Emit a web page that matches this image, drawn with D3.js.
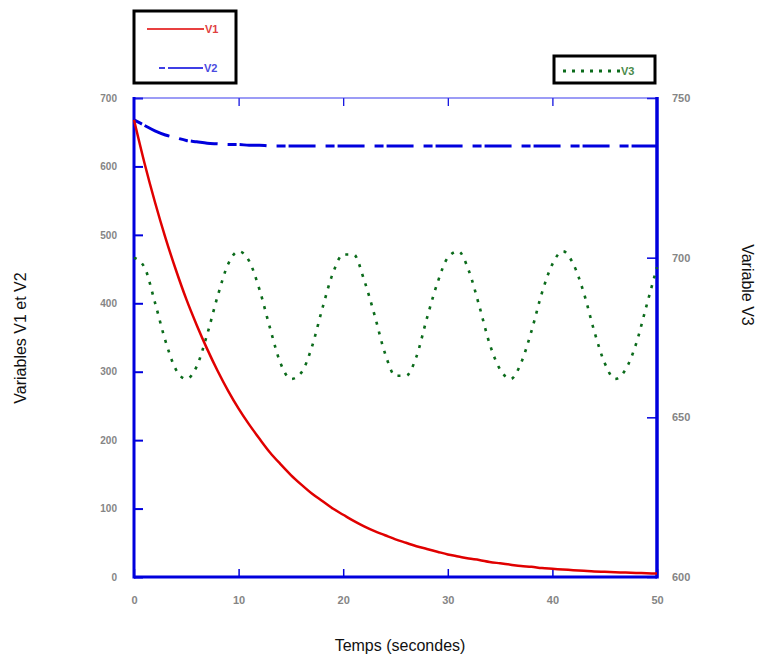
<!DOCTYPE html>
<html>
<head>
<meta charset="utf-8">
<script src="https://cdn.jsdelivr.net/npm/d3@7"></script>
<style>
  body { margin: 0; background: #fff; }
  svg { display: block; }
</style>
</head>
<body>
<script>
// Data
var temps = [0, 1, 2, 3, 4, 5, 6, 7, 8, 9, 10, 11, 12, 13, 14, 15, 16, 17, 18, 19, 20,
  21, 22, 23, 24, 25, 26, 27, 28, 29, 30, 31, 32, 33, 34, 35, 36, 37, 38, 39, 40,
  41, 42, 43, 44, 45, 46, 47, 48, 49, 50];

var v1 = [668, 605, 548, 496, 449, 406, 368, 333, 301, 272, 246, 223, 202, 182, 165, 149,
  135, 122, 111, 100, 91, 82, 74, 67, 61, 55, 50, 45, 41, 37, 33, 30, 27, 25, 22, 20,
  18, 16, 15, 13, 12, 11, 10, 9, 8, 7.5, 7, 6.5, 6, 5.5, 5];

var v2 = [668, 660, 652, 646, 642, 638, 636, 634, 633, 632, 632, 631, 631, 630, 630, 630,
  630, 630, 630, 630, 630, 630, 630, 630, 630, 630, 630, 630, 630, 630, 630, 630, 630,
  630, 630, 630, 630, 630, 630, 630, 630, 630, 630, 630, 630, 630, 630, 630, 630, 630, 630];

var v3 = [700, 697, 686, 674, 665, 662, 666, 676, 688, 698, 702, 699, 690, 678, 667, 662,
  664, 672, 684, 695, 701, 701, 693, 682, 670, 663, 663, 669, 681, 692, 700, 702, 696,
  685, 673, 665, 662, 667, 677, 689, 698, 702, 698, 689, 677, 667, 662, 665, 673, 685, 697];

var xTicks = [0, 10, 20, 30, 40, 50];
var yLeftTicks = [0, 100, 200, 300, 400, 500, 600, 700];
var yRightTicks = [600, 650, 700, 750];

// Plot frame
var W = 760, H = 656;
var plotLeft = 134, plotRight = 657, plotTop = 98, plotBottom = 577;

var svg = d3.select("body").append("svg")
  .attr("width", W)
  .attr("height", H)
  .style("font-family", "'Liberation Sans', Arial, sans-serif");

var x = d3.scaleLinear().domain([0, 50]).range([plotLeft, plotRight]);
var yL = d3.scaleLinear().domain([0, 700]).range([plotBottom, plotTop]);
var yR = d3.scaleLinear().domain([600, 750]).range([plotBottom, plotTop]);

var axisBlue = "#0000dd";
var tickGrey = "#858585";

// bottom axis, ticks pointing inward
svg.append("g")
  .attr("transform", "translate(0," + plotBottom + ")")
  .call(d3.axisBottom(x).tickValues(xTicks).tickSizeInner(-8).tickSizeOuter(0).tickPadding(19))
  .call(function(g) {
    g.select(".domain").remove();
    g.selectAll(".tick line").attr("stroke", axisBlue).attr("stroke-width", 1.5);
    g.selectAll(".tick text").attr("fill", tickGrey).attr("font-size", 11).attr("font-weight", "bold");
  });

// top ticks (mirror)
svg.append("g")
  .attr("transform", "translate(0," + plotTop + ")")
  .call(d3.axisTop(x).tickValues([10, 20, 30, 40]).tickSizeInner(-8).tickSizeOuter(0).tickFormat(""))
  .call(function(g) {
    g.select(".domain").remove();
    g.selectAll(".tick line").attr("stroke", axisBlue).attr("stroke-width", 1.2);
  });

// left axis
svg.append("g")
  .attr("transform", "translate(" + plotLeft + ",0)")
  .call(d3.axisLeft(yL).tickValues(yLeftTicks).tickSizeInner(-9).tickSizeOuter(0).tickPadding(17))
  .call(function(g) {
    g.select(".domain").remove();
    g.selectAll(".tick line").attr("stroke", axisBlue).attr("stroke-width", 2);
    g.selectAll(".tick text").attr("fill", tickGrey).attr("font-size", 10).attr("font-weight", "bold");
  });

// right axis
svg.append("g")
  .attr("transform", "translate(" + plotRight + ",0)")
  .call(d3.axisRight(yR).tickValues(yRightTicks).tickSizeInner(-10).tickSizeOuter(0).tickPadding(15))
  .call(function(g) {
    g.select(".domain").remove();
    g.selectAll(".tick line").attr("stroke", axisBlue).attr("stroke-width", 1.5);
    g.selectAll(".tick text").attr("fill", tickGrey).attr("font-size", 11).attr("font-weight", "bold");
  });

// frame
svg.append("line").attr("x1", plotLeft).attr("x2", plotRight).attr("y1", plotTop).attr("y2", plotTop)
  .attr("stroke", "#3a3aee").attr("stroke-width", 1.2);
svg.append("line").attr("x1", plotLeft).attr("x2", plotLeft).attr("y1", plotTop - 1).attr("y2", plotBottom + 1.5)
  .attr("stroke", axisBlue).attr("stroke-width", 3);
svg.append("line").attr("x1", plotRight).attr("x2", plotRight).attr("y1", plotTop - 1).attr("y2", plotBottom + 1.5)
  .attr("stroke", axisBlue).attr("stroke-width", 3.5);
svg.append("line").attr("x1", plotLeft).attr("x2", plotRight).attr("y1", plotBottom).attr("y2", plotBottom)
  .attr("stroke", axisBlue).attr("stroke-width", 3);

// series
var lineL = d3.line()
  .x(function(d, i) { return x(temps[i]); })
  .y(function(d) { return yL(d); })
  .curve(d3.curveMonotoneX);
var lineR = d3.line()
  .x(function(d, i) { return x(temps[i]); })
  .y(function(d) { return yR(d); })
  .curve(d3.curveMonotoneX);

svg.append("path").attr("d", lineR(v3))
  .attr("fill", "none").attr("stroke", "#0b6b1b").attr("stroke-width", 2.6)
  .attr("stroke-dasharray", "3,7");

svg.append("path").attr("d", lineL(v2))
  .attr("fill", "none").attr("stroke", "#0000dd").attr("stroke-width", 3)
  .attr("stroke-dasharray", "9,3,27,10");

svg.append("path").attr("d", lineL(v1))
  .attr("fill", "none").attr("stroke", "#e00000").attr("stroke-width", 2.5);

// axis titles
svg.append("text")
  .attr("x", 400).attr("y", 651)
  .attr("text-anchor", "middle")
  .attr("font-size", 16).attr("fill", "#111")
  .text("Temps (secondes)");

svg.append("text")
  .attr("transform", "translate(26,338) rotate(-90)")
  .attr("text-anchor", "middle")
  .attr("font-size", 16).attr("fill", "#111")
  .text("Variables V1 et V2");

svg.append("text")
  .attr("transform", "translate(742,285) rotate(90)")
  .attr("text-anchor", "middle")
  .attr("font-size", 16).attr("fill", "#111")
  .text("Variable V3");

// legends
var leg1 = svg.append("g");
leg1.append("rect").attr("x", 134).attr("y", 11).attr("width", 102).attr("height", 72)
  .attr("fill", "#fff").attr("stroke", "#000").attr("stroke-width", 3);
leg1.append("line").attr("x1", 147).attr("x2", 204).attr("y1", 29).attr("y2", 29)
  .attr("stroke", "#e00000").attr("stroke-width", 1.5);
leg1.append("text").attr("x", 205).attr("y", 33).attr("font-size", 11).attr("font-weight", "bold")
  .attr("fill", "#e04040").text("V1");
leg1.append("line").attr("x1", 159).attr("x2", 203).attr("y1", 68).attr("y2", 68)
  .attr("stroke", "#0000dd").attr("stroke-width", 1.5).attr("stroke-dasharray", "6,3,35,0");
leg1.append("text").attr("x", 204).attr("y", 72).attr("font-size", 11).attr("font-weight", "bold")
  .attr("fill", "#4a4ae0").text("V2");

var leg2 = svg.append("g");
leg2.append("rect").attr("x", 554).attr("y", 56).attr("width", 101).attr("height", 27)
  .attr("fill", "#fff").attr("stroke", "#000").attr("stroke-width", 3);
leg2.append("line").attr("x1", 563).attr("x2", 621).attr("y1", 71).attr("y2", 71)
  .attr("stroke", "#0b6b1b").attr("stroke-width", 3).attr("stroke-dasharray", "3,6");
leg2.append("text").attr("x", 621).attr("y", 75).attr("font-size", 11).attr("font-weight", "bold")
  .attr("fill", "#4a8a4a").text("V3");
</script>
</body>
</html>
